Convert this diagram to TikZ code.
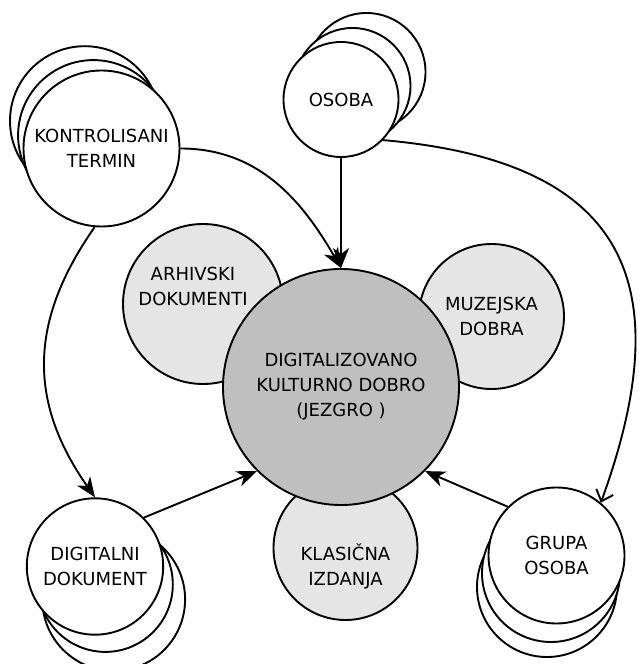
\documentclass[tikz,border=0pt]{standalone}
\usepackage{fontspec}
\setmainfont{DejaVu Sans}
\usepackage{xcolor}
\usepackage{tikz}
\usetikzlibrary{arrows.meta}
\definecolor{coregray}{RGB}{191,191,191}
\definecolor{satgray}{RGB}{229,229,229}

\begin{document}
\begin{tikzpicture}[x=1pt,y=1pt,line width=1.9pt,
                    >={Stealth[length=20pt,width=16pt,inset=6pt]},
                    font=\fontsize{18}{25}\selectfont]
  \tikzstyle{ent}=[draw, circle, fill=white, inner sep=0pt, align=center]
  \tikzstyle{sat}=[draw, circle, fill=satgray, inner sep=0pt, align=center]
  \tikzstyle{core}=[draw, circle, fill=coregray, inner sep=0pt, align=center]
  \tikzstyle{open}=[-{Straight Barb[length=10pt,width=18pt]}]
  \useasboundingbox (0,0) rectangle (644,664);
  \clip (0,0) rectangle (644,664);
  % stacked entities
  \node[ent, minimum size=149.6pt] (kt3) at (84.8,543) {};
  \node[ent, minimum size=150.6pt] (kt2) at (93.4,528.6) {};
  \node[ent, minimum size=156pt]   (kt)  at (101.5,515.5) {KONTROLISANI\\TERMIN};
  \node[ent, minimum size=118pt] (osoba3) at (366.5,592) {};
  \node[ent, minimum size=116pt] (osoba2) at (352.5,578) {};
  \node[ent, minimum size=115pt] (osoba)  at (341,564.5) {OSOBA};
  \node[ent, minimum size=142.8pt] (dig3) at (113.7,64.6) {};
  \node[ent, minimum size=134.8pt] (dig2) at (105.4,79.5) {};
  \node[ent, minimum size=136.4pt] (dig)  at (95,97.5) {DIGITALNI\\DOKUMENT};
  \node[ent, minimum size=140pt] (grupa3) at (547,77) {};
  \node[ent, minimum size=138pt] (grupa2) at (551,91) {};
  \node[ent, minimum size=136pt] (grupa)  at (556.5,108.5) {GRUPA\\OSOBA};
  % kinds of goods round the core
  \node[sat, minimum size=160pt,
        label={[align=center,xshift=-10pt,yshift=17.5pt]center:ARHIVSKI\\DOKUMENTI}]
        (arhiv) at (203,360) {};
  \node[sat, minimum size=145pt] (muzej) at (491.5,347.5) {MUZEJSKA\\DOBRA};
  \node[sat, minimum size=144pt,
        label={[align=center,yshift=-18.5pt]center:KLASIČNA\\IZDANJA}]
        (klasic) at (345.5,116) {};
  \node[core, minimum size=236pt] (jezgro) at (341,277)
        {DIGITALIZOVANO\\KULTURNO DOBRO\\(JEZGRO )};
  % links
  \path[->] (osoba) edge (jezgro)
            (kt.east) edge[out=0,in=120] (jezgro.north)
            (kt.265) edge[out=235,in=125,looseness=1.1] (dig.north)
            (dig.45) edge (jezgro.225)
            (grupa.135) edge (jezgro.-45);
  \path (osoba.-44) edge[open,out=-5,in=70,looseness=1.45] (grupa.50);
\end{tikzpicture}
\end{document}
